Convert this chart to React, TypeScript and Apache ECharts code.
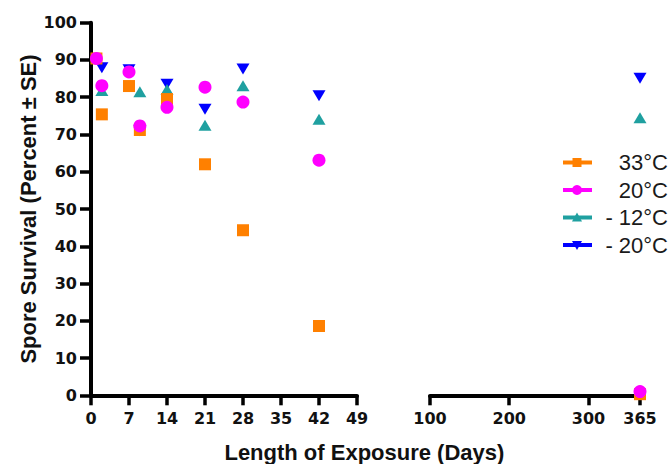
import React, { useEffect, useRef } from "react";
import * as echarts from "echarts";

// ---- data ----
const earlyDays = [1, 2, 7, 9, 14, 21, 28, 42];
const lateDays = [365];
const seriesNames = ["33°C", "20°C", "- 12°C", "- 20°C"];
const early33 = [90.4, 75.4, 83.0, 71.2, 79.5, 62.0, 44.3, 18.6];
const early20 = [90.4, 83.1, 86.8, 72.3, 77.3, 82.7, 78.7, 63.1];
const earlyM12 = [null, 81.8, null, 81.5, 82.1, 72.5, 83.1, 74.1];
const earlyM20 = [null, 87.9, 87.4, 71.0, 83.5, 76.8, 87.6, 80.4];
const late33 = [0.3];
const late20 = [1.0];
const lateM12 = [74.5];
const lateM20 = [85.1];
const earlyTickStep = 7;
const lateTicks = [100, 200, 300, 365];
const yTickStep = 10;

const colors = ["#FF8000", "#FF00FF", "#1FA0A0", "#0000FF"];
const symbols = ["rect", "circle", "triangle", "triangle"];
const rotations = [0, 0, 0, 180];
const sizes: any[] = [12, 13, [13, 11], [13, 11]];

const pair = (xs: number[], ys: (number | null)[]) =>
  xs.map((x, i) => [x, ys[i]]).filter((p) => p[1] !== null);

const FONT = "'Liberation Sans', Arial, sans-serif";
const TICKFONT = "'DejaVu Sans', sans-serif";

export default function App() {
  const ref = useRef<HTMLDivElement>(null);
  useEffect(() => {
    if (!ref.current) return;
    const chart = echarts.init(ref.current, null, { renderer: "svg" });
    const earlySets = [early33, early20, earlyM12, earlyM20];
    const lateSets = [late33, late20, lateM12, lateM20];
    // draw order: -20, -12, 33, 20 (last on top)
    const order = [3, 2, 0, 1];
    const series: any[] = [];
    order.forEach((k) => {
      const common = {
        type: "scatter",
        name: seriesNames[k],
        symbol: symbols[k],
        symbolSize: sizes[k],
        symbolRotate: rotations[k],
        itemStyle: { color: colors[k], opacity: 1 },
        emphasis: { disabled: true },
        silent: true,
      };
      series.push({ ...common, xAxisIndex: 0, yAxisIndex: 0, data: pair(earlyDays, earlySets[k]) });
      series.push({ ...common, xAxisIndex: 1, yAxisIndex: 1, data: pair(lateDays, lateSets[k]) });
    });

    const axisLine = { show: true, lineStyle: { color: "#000", width: 4 } };
    const xTick = { show: true, length: 10, lineStyle: { color: "#000", width: 3.5 } };
    const xLabel = {
      color: "#111",
      fontFamily: TICKFONT,
      fontWeight: "bold",
      fontSize: 16,
      margin: 15,
    };

    const legendItems: any[] = [];
    const legY = [162.5, 190, 217.5, 245];
    [0, 1, 2, 3].forEach((k) => {
      const y = legY[k];
      const cx = 577;
      legendItems.push({
        type: "rect",
        shape: { x: 563, y: y - 2, width: 29, height: 4 },
        style: { fill: colors[k] },
        silent: true,
      });
      let marker: any;
      if (k === 0) marker = { type: "rect", shape: { x: cx - 4.5, y: y - 4.5, width: 9, height: 9 }, style: { fill: colors[k] } };
      else if (k === 1) marker = { type: "circle", shape: { cx, cy: y, r: 5 }, style: { fill: colors[k] } };
      else if (k === 2) marker = { type: "polygon", shape: { points: [[cx - 5, y + 4], [cx + 5, y + 4], [cx, y - 5]] }, style: { fill: colors[k] } };
      else marker = { type: "polygon", shape: { points: [[cx - 5, y - 4], [cx + 5, y - 4], [cx, y + 5]] }, style: { fill: colors[k] } };
      marker.silent = true;
      legendItems.push(marker);
      legendItems.push({
        type: "text",
        x: 668,
        y: y,
        style: {
          text: seriesNames[k],
          fill: "#1a1a1a",
          font: `22px ${FONT}`,
          align: "right",
          verticalAlign: "middle",
        },
        silent: true,
      });
    });

    chart.setOption({
      animation: false,
      backgroundColor: "#fff",
      grid: [
        { left: 91, width: 266, top: 22.7, bottom: 68.7, containLabel: false },
        { left: 430, right: 29, top: 22.7, bottom: 68.7, containLabel: false },
      ],
      xAxis: [
        {
          type: "value",
          gridIndex: 0,
          min: 0,
          max: 49,
          interval: earlyTickStep,
          axisLine,
          axisTick: xTick,
          axisLabel: xLabel,
          splitLine: { show: false },
        },
        {
          type: "value",
          gridIndex: 1,
          min: 100,
          max: 365,
          axisLine,
          axisTick: { ...xTick, customValues: lateTicks },
          axisLabel: { ...xLabel, customValues: lateTicks },
          splitLine: { show: false },
        },
      ],
      yAxis: [
        {
          type: "value",
          gridIndex: 0,
          min: 0,
          max: 100,
          interval: yTickStep,
          axisLine,
          axisTick: { show: true, length: 11, lineStyle: { color: "#000", width: 3.5 } },
          axisLabel: {
            color: "#111",
            fontFamily: TICKFONT,
            fontWeight: "bold",
            fontSize: 16,
            margin: 14,
          },
          splitLine: { show: false },
          name: "Spore Survival (Percent ± SE)",
          nameLocation: "middle",
          nameRotate: 90,
          nameGap: 49,
          nameTextStyle: { fontFamily: FONT, fontWeight: "bold", fontSize: 22, color: "#111" },
        },
        {
          type: "value",
          gridIndex: 1,
          min: 0,
          max: 100,
          show: false,
        },
      ],
      series,
      graphic: [
        {
          type: "text",
          x: 364.4,
          y: 452,
          style: {
            text: "Length of Exposure (Days)",
            fill: "#111",
            font: `bold 22px ${FONT}`,
            align: "center",
            verticalAlign: "middle",
          },
          silent: true,
        },
        ...legendItems,
      ],
    });
    return () => chart.dispose();
  }, []);
  return (
    <div
      ref={ref}
      style={{ position: "fixed", left: 0, top: 0, width: 669, height: 464, background: "#fff" }}
    />
  );
}
